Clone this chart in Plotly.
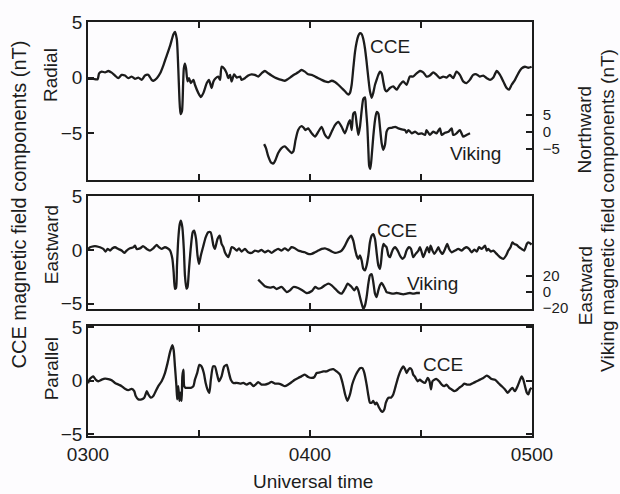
import plotly.graph_objects as go

# Time in minutes after 0300 UT; field values in nT
rad_t = [0, 1.4, 2.6, 3.0, 3.7, 4.6, 5.5, 6.4, 7.3, 8.2, 9.1, 10.0, 10.9, 11.8, 12.7, 13.6, 14.5, 15.4, 16.3, 17.2,
         17.7, 18.6, 19.5, 20.4, 21.3, 22.2, 23.1, 23.5, 24.0, 24.4, 24.7, 25.0, 25.4, 25.7, 25.9, 26.2, 26.5, 26.9,
         27.3, 27.8, 28.5, 28.9, 29.8, 30.5, 31.2, 32.1, 32.7, 33.4, 33.9, 34.5, 35.2, 35.7, 36.1, 36.8, 37.5, 37.9,
         38.4, 38.8, 39.5, 40.2, 41.1, 41.5, 42.4, 43.3, 44.2, 45.1, 46.0, 46.9, 47.8, 48.7, 49.6, 50.5, 51.4, 52.3,
         53.2, 54.1, 55.0, 55.9, 56.8, 57.7, 58.6, 59.5, 60.45, 61.35, 62.25, 63.15, 64.05, 64.95, 65.85, 66.75,
         67.65, 68.55, 69.45, 70.35, 70.8, 71.26, 71.7, 72.16, 72.6, 73.06, 73.5, 73.97, 74.4, 74.87, 75.3, 75.77,
         76.2, 76.67, 77.1, 77.57, 78.0, 78.47, 78.9, 79.37, 79.8, 80.27, 80.7, 81.6, 82.5, 83.4, 84.3, 85.2, 86.1,
         87.0, 87.9, 88.8, 89.7, 90.6, 91.5, 92.4, 93.3, 94.2, 95.1, 96.0, 96.9, 97.8, 98.7, 99.6, 100.5, 101.4,
         102.3, 103.2, 104.1, 105.0, 105.9, 106.8, 107.75, 108.65, 109.55, 110.45, 111.35, 112.25, 113.15, 113.8,
         114.5, 115.4, 116.3, 117.2, 118.1, 119.0, 119.9]
rad_v = [-0.12, -0.12, -0.15, 0.38, 0.53, 0.47, 0.59, 0.44, 0.18, -0.06, 0.24, 0.18, -0.06, 0.09, -0.12, 0, -0.21,
         0.18, 0.24, -0.21, -0.29, -0.06, 0.38, 1.12, 2.0, 2.88, 3.91, 4.12, 3.47, 0.82, -1.82, -3.29, -3.0, -0.65,
         0.82, 1.26, 0.82, -0.35, -0.06, -0.5, -0.21, -0.65, -1.38, -1.76, -1.38, -0.5, -0.21, -0.94, -0.35, -0.06,
         0.09, -0.21, 0.97, 0.82, 0.38, -0.06, 0.24, -0.35, 0.29, 0, 0.09, -0.21, -0.06, 0.18, 0.29, 0.24, 0.09,
         0.38, 0.59, 0.38, 0.18, 0, -0.12, -0.21, -0.29, -0.12, 0.09, 0.29, 0.47, 0.68, 0.53, 0.29, 0.24, 0.09,
         -0.06, -0.21, -0.35, -0.41, -0.29, -0.41, -0.65, -0.94, -1.24, -1.53, -1.38, -0.65, 0.82, 2.29, 3.18, 3.76,
         4.0, 3.91, 3.47, 2.59, 1.41, -0.06, -1.24, -1.82, -1.38, -0.65, -0.21, 0.24, 0.53, 0.38, -0.35, -1.09,
         -1.24, -0.94, -0.79, -1.09, -0.65, -0.35, -0.65, 0.09, 0.09, 0.38, 0.59, 0.47, 0.09, 0.18, 0.47, 0.24,
         -0.06, 0.09, 0, 0.24, -0.06, 0.53, 0.24, -0.35, -0.5, -0.21, 0.24, 0.29, 0.09, 0.18, -0.06, -0.21, 0,
         0.59, 0.24, -0.35, -0.94, -1.09, -0.65, -0.21, 0.38, 0.82, 0.97, 0.88, 0.97]

vn_t = [47.6, 48.1, 48.7, 49.5, 50.1, 50.7, 51.4, 52.3, 53.2, 54.1, 55.0, 55.5, 56.1, 56.8, 57.6, 58.2, 58.8, 59.5,
        60.45, 61.35, 62.25, 63.15, 64.05, 64.95, 65.85, 66.75, 67.65, 68.55, 69.45, 70.35, 70.8, 71.26, 71.7,
        72.16, 72.6, 73.06, 73.5, 73.97, 74.4, 74.87, 75.1, 75.5, 75.77, 76.0, 76.3, 76.67, 77.1, 77.57, 78.0,
        78.47, 78.9, 79.37, 79.8, 80.27, 80.7, 81.2, 82.1, 83.0, 83.9, 84.8, 85.7, 86.1, 86.6, 87.5, 88.4, 89.3,
        90.2, 91.1, 91.5, 92.4, 93.3, 94.2, 95.1, 95.6, 96.5, 97.4, 98.3, 98.7, 99.6, 100.5, 101.4, 102.3, 103.25]
vn_v = [-3.65, -4.8, -7.2, -9.1, -9.3, -8.2, -6.25, -4.8, -4.3, -5.3, -6.25, -5.8, -2.4, 0.5, 1.6, 1.25, 0.5, 1.0,
        -0.48, -1.44, 0, 1.44, -0.96, -1.92, 0, 1.92, 2.88, 1.44, -0.48, 2.4, 3.37, 0.48, 5.3, 5.77, 2.4, -0.96,
        1.44, 6.25, 9.6, 10.1, 7.2, 1.44, -5.3, -10.1, -10.9, -7.2, -1.44, 3.37, 5.77, 5.3, 1.44, -3.37, -5.3,
        -3.85, 0, 0.96, 1.15, 1.44, 0.96, 0.67, 0.48, -0.29, 0.48, -0.48, 0, -0.67, -0.48, -0.96, 0.48, -0.96, 0,
        -0.48, 0.96, -0.96, -0.29, 0, 0.96, -0.96, -0.48, 0.48, -1.44, -0.96, -0.48]

east_t = [0, 0.54, 1.44, 2.34, 3.24, 4.14, 4.77, 5.3, 5.95, 6.6, 7.3, 8.2, 9.1, 9.8, 10.45, 11.35, 12.25, 12.7,
          13.15, 14.05, 14.95, 15.85, 16.75, 17.65, 18.55, 19.2, 19.9, 20.8, 21.5, 22.2, 22.8, 23.15, 23.5, 23.8,
          24.05, 24.4, 24.8, 25.1, 25.5, 25.9, 26.2, 26.6, 26.9, 27.3, 27.8, 28.3, 28.7, 29.2, 29.6, 30.0, 30.5,
          31.2, 31.8, 32.5, 33.15, 33.9, 34.3, 35.0, 35.6, 36.1, 36.6, 37.0, 37.5, 37.9, 38.4, 38.8, 39.5, 40.2,
          40.8, 41.5, 42.4, 43.3, 44.2, 45.1, 46.0, 46.9, 47.8, 48.7, 49.6, 50.5, 51.4, 52.3, 53.2, 54.1, 55.0,
          55.9, 56.8, 57.7, 58.6, 59.5, 60.45, 61.35, 62.25, 63.15, 64.05, 64.95, 65.85, 66.75, 67.65, 68.55,
          69.45, 70.35, 71.1, 71.7, 72.16, 72.6, 73.06, 73.5, 73.97, 74.4, 74.87, 75.3, 75.77, 76.2, 76.67, 77.1,
          77.57, 78.0, 78.47, 78.9, 79.2, 79.55, 79.9, 80.27, 80.7, 81.2, 81.6, 82.1, 82.5, 83.0, 83.7, 84.3,
          84.95, 85.5, 86.1, 86.75, 87.3, 87.9, 88.55, 89.3, 89.7, 90.2, 90.6, 91.3, 91.7, 92.2, 92.6, 93.1, 93.6,
          94.2, 94.7, 95.1, 95.8, 96.5, 97.1, 97.6, 98.3, 99.2, 100.1, 101.0, 101.7, 102.3, 103.0, 103.7, 104.4,
          105.05, 105.7, 106.4, 107.3, 107.75, 108.2, 108.9, 109.55, 110.45, 111.35, 112.25, 113.0, 113.6, 114.2,
          114.7, 115.2, 115.9, 116.5, 117.2, 117.9, 118.6, 119.0, 119.9]
east_v = [0.09, 0.25, 0.34, 0.34, 0.25, 0.09, -0.15, 0.09, -0.06, 0.15, 0.25, 0.09, -0.06, -0.28, -0.06, 0.15,
          0.25, 0.4, 0.09, 0.15, 0.34, 0.09, -0.06, 0.15, 0.46, 0.25, 0.09, 0.25, 0.15, -0.06, -0.83, -2.07, -3.61,
          -3.55, -1.45, 1.02, 2.41, 2.72, 2.1, 0.09, -2.38, -3.61, -3.46, -1.76, 0.25, 1.64, 1.79, 1.02, -0.52,
          -1.3, -0.52, 0.4, 1.17, 1.64, 1.64, 0.4, 0.09, 1.02, 1.33, 0.56, 0.25, -0.22, -0.52, -0.68, -0.22, 0.25,
          0.15, -0.06, 0.15, -0.15, 0.09, -0.22, -0.28, -0.06, -0.15, 0, -0.22, -0.06, -0.28, -0.06, 0.09, -0.06,
          0.15, -0.06, 0.25, 0.15, -0.06, -0.15, -0.22, -0.37, -0.37, -0.22, -0.06, 0.09, 0.15, 0.03, -0.15, -0.28,
          -0.22, -0.06, 0.4, 1.02, 1.33, 0.86, 0.09, -0.52, -0.83, -0.52, -0.99, -1.76, -1.91, -1.45, -0.52, 0.71,
          1.33, 1.48, 1.02, -0.22, -1.45, -1.76, -1.14, 0.09, 0.56, 0.4, 0.25, -0.52, -0.68, -0.22, 0.09, 0.25,
          -0.06, -0.52, -0.83, -0.68, -0.06, 0.25, 0.09, -0.68, -0.37, -0.06, 0.25, -0.22, -0.68, -0.06, 0.25,
          -0.22, 0.4, -0.06, -0.37, -0.06, 0.25, -0.06, -0.37, 0.09, 0.56, 0.09, -0.22, -0.06, 0.09, -0.06, 0.15,
          0.25, 0.09, -0.22, 0.03, -0.15, 0.25, 0.09, 0.4, -0.06, 0.09, -0.15, -0.06, -0.37, -0.68, -0.83, -0.52,
          -0.06, 0.25, 0.71, 0.56, 0.46, 0.25, 0.09, -0.06, 0.56, 0.71, 0.5]

ve_t = [46.0, 46.9, 47.8, 49.2, 50.1, 51.0, 52.3, 53.7, 54.6, 55.5, 56.8, 58.2, 59.1, 60.5, 61.4, 62.25, 63.15,
        64.05, 64.95, 65.85, 66.75, 67.65, 68.55, 69.45, 70.2, 70.8, 71.26, 72.0, 72.6, 73.06, 73.5, 73.97, 74.4,
        74.87, 75.3, 75.77, 76.2, 76.67, 77.1, 77.57, 78.0, 78.47, 78.9, 79.37, 79.8, 80.27, 80.7, 81.6, 82.5,
        83.4, 84.3, 85.2, 86.1, 87.0, 87.9, 88.8, 89.7]
ve_v = [15.4, 11.25, 7.1, 5.4, 6.25, 3.75, 6.25, 0, 2.1, 6.25, 5.0, 1.25, -1.25, 1.25, 6.25, 4.2, 5.4, 8.3, 10.4,
        8.3, 4.2, 0, -2.1, 4.2, 10.4, 8.3, 6.25, 2.1, 6.25, 2.1, -6.25, -14.6, -20.8, -16.7, -6.25, 10.4, 20.8,
        22.1, 12.5, -2.1, -6.25, 2.1, 8.3, 11.25, 8.3, 4.2, 0, -1.25, -2.1, -1.25, -2.1, -2.9, -2.1, -1.25, -2.1,
        -1.25, -1.25]

par_t = [0, 0.5, 1.44, 2.07, 2.8, 3.7, 4.6, 5.5, 6.4, 7.3, 8.2, 9.1, 10.0, 10.9, 11.8, 12.5, 12.9, 13.6, 14.5,
         15.2, 15.9, 16.3, 17.0, 17.65, 18.3, 19.0, 19.9, 20.8, 21.5, 22.2, 22.8, 23.15, 23.5, 23.9, 24.1, 24.4,
         24.7, 24.95, 25.3, 25.5, 25.8, 26.0, 26.4, 27.1, 27.8, 28.5, 28.9, 29.5, 30.1, 30.7, 31.3, 31.8, 32.3,
         32.8, 33.2, 33.8, 34.3, 34.9, 35.4, 36.1, 36.8, 37.5, 38.1, 38.6, 39.3, 40.2, 41.1, 42.0, 42.9, 43.8,
         44.7, 45.3, 46.0, 46.9, 47.8, 48.7, 49.6, 50.5, 51.4, 52.3, 53.2, 54.1, 55.0, 55.9, 56.8, 57.7, 58.6,
         59.5, 60.45, 61.2, 61.8, 62.7, 63.6, 64.5, 65.4, 66.3, 67.2, 68.1, 68.56, 69.0, 69.5, 70.1, 70.8, 71.4,
         72.2, 72.9, 73.5, 74.15, 74.7, 75.3, 75.8, 76.2, 76.7, 77.1, 77.6, 78.0, 78.65, 79.2, 79.6, 80.1, 80.5,
         81.2, 81.9, 82.5, 83.15, 83.9, 84.6, 85.2, 85.7, 86.1, 86.6, 87.0, 87.5, 87.9, 88.4, 89.1, 89.7, 90.2,
         91.1, 91.8, 92.3, 92.7, 93.1, 93.6, 94.2, 94.9, 95.6, 96.3, 96.9, 97.6, 98.3, 99.0, 99.6, 100.3, 101.0,
         101.7, 102.4, 103.25, 104.15, 105.05, 105.95, 106.85, 107.75, 108.4, 109.1, 110.0, 110.9, 111.8, 112.7,
         113.4, 114.05, 114.7, 115.4, 116.1, 116.8, 117.2, 117.65, 118.1, 118.6, 119.0, 119.5, 119.9]
par_v = [-0.25, 0.15, 0.4, 0.09, -0.06, 0.09, 0.19, 0.15, 0.03, -0.22, -0.37, -0.52, -0.77, -0.9, -0.77, -0.99,
         -1.45, -1.76, -1.76, -1.6, -0.99, -1.3, -1.6, -1.45, -0.99, -0.52, -0.06, 0.71, 1.64, 2.72, 3.33, 2.87,
         1.33, -0.52, -1.76, -0.52, -1.91, -1.14, -1.91, 0.4, 1.02, -0.52, -0.68, -0.68, -0.68, -0.52, 0.09, 0.71,
         1.48, 1.33, 0.71, -0.22, -0.83, -1.14, 0.09, 1.33, 1.33, 0.56, -0.06, 0.4, 1.33, 1.48, 0.71, 0.09, -0.22,
         -0.22, -0.28, -0.22, -0.37, -0.22, -0.52, -0.37, -0.15, -0.37, -0.37, -0.28, -0.12, -0.28, -0.28, -0.37,
         -0.52, -0.37, -0.15, 0.09, 0.25, 0.4, 0.56, 0.34, 0.25, 0.34, 0.71, 0.77, 0.86, 0.86, 1.02, 1.08, 0.86,
         0.56, 0.09, -0.52, -1.3, -1.91, -1.3, -0.37, 0.4, 0.86, 1.17, 1.17, 0.71, -0.37, -1.45, -2.07, -2.07,
         -1.91, -2.22, -2.07, -2.53, -2.84, -2.93, -2.69, -2.07, -1.6, -1.6, -1.3, -0.52, 0.4, 1.02, 1.33, 1.08,
         0.71, 1.02, 1.17, 1.02, 0.56, 0.34, -0.06, 0.09, -0.06, -0.22, 0.25, -0.06, -0.83, -0.06, 0.09, 0.15,
         -0.06, -0.37, -0.52, -0.37, -0.68, -0.83, -0.99, -0.9, -0.68, -0.52, -0.28, -0.37, -0.37, -0.22, -0.06,
         0.09, 0.25, 0.46, 0.34, 0.15, 0.09, -0.22, -0.52, -0.83, -1.14, -0.9, -0.68, -0.99, -0.52, 0.09, 0.4,
         0.09, -0.52, -1.14, -1.3, -0.83, -0.68]

x_tickvals = [0, 30, 60, 90, 120]
x_ticktext = ["0300", "", "0400", "", "0500"]

FONT = "Liberation Sans, Arial, sans-serif"
INK = "#1c1c1c"
BG = "#fdfcfe"
LW = 2.3

fig = go.Figure()
line = dict(color=INK, width=LW, shape="spline", smoothing=0.6)
fig.add_trace(go.Scatter(x=rad_t, y=rad_v, mode="lines", line=line, xaxis="x", yaxis="y"))
fig.add_trace(go.Scatter(x=vn_t, y=vn_v, mode="lines", line=line, xaxis="x", yaxis="y2"))
fig.add_trace(go.Scatter(x=east_t, y=east_v, mode="lines", line=line, xaxis="x2", yaxis="y3"))
fig.add_trace(go.Scatter(x=ve_t, y=ve_v, mode="lines", line=line, xaxis="x2", yaxis="y4"))
fig.add_trace(go.Scatter(x=par_t, y=par_v, mode="lines", line=line, xaxis="x3", yaxis="y5"))

xcommon = dict(range=[0, 120], tickvals=x_tickvals, ticktext=x_ticktext, ticks="inside", ticklen=6,
               tickwidth=1.5, tickcolor=INK, showline=True, linewidth=1.6, linecolor=INK, mirror="ticks",
               showgrid=False, zeroline=False, tickfont=dict(size=19, color=INK, family=FONT))
ycommon = dict(ticks="inside", ticklen=6, tickwidth=1.5, tickcolor=INK, showline=True, linewidth=1.6,
               linecolor=INK, showgrid=False, zeroline=False, tickfont=dict(size=19, color=INK, family=FONT))
right_font = dict(size=15, color=INK, family=FONT)

fig.update_layout(
    width=620, height=494,
    margin=dict(l=88, r=88, t=13, b=58),
    paper_bgcolor=BG, plot_bgcolor=BG,
    showlegend=False,
    font=dict(family=FONT, color=INK, size=19),
    xaxis=dict(xcommon, anchor="y", showticklabels=False),
    xaxis2=dict(xcommon, anchor="y3", showticklabels=False),
    xaxis3=dict(xcommon, anchor="y5", showticklabels=True),
    yaxis=dict(ycommon, domain=[0.619, 1.0], range=[-9.2, 5.0], tickvals=[-5, 0, 5], anchor="x", mirror=False),
    yaxis2=dict(ycommon, overlaying="y", side="right", anchor="x", range=[-14.1, 32.2], tickvals=[-5, 0, 5],
                tickfont=right_font, ticklabelstandoff=6),
    yaxis3=dict(ycommon, domain=[0.307, 0.579], range=[-5.5, 5.0], tickvals=[-5, 0, 5], anchor="x2", mirror=False),
    yaxis4=dict(ycommon, overlaying="y3", side="right", anchor="x2", range=[-21, 119], tickvals=[-20, 0, 20],
                tickfont=right_font, ticklabelstandoff=6),
    yaxis5=dict(ycommon, domain=[0.0, 0.265], range=[-5.2, 5.1], tickvals=[-5, 0, 5], anchor="x3", mirror="ticks"),
)

ann = []
def side_title(text, x, y, size=19):
    ann.append(dict(text=text, xref="paper", yref="paper", x=x, y=y, textangle=-90, showarrow=False,
                    xanchor="center", yanchor="middle", font=dict(size=size, color=INK, family=FONT)))

side_title("CCE magnetic field components (nT)", -0.1565, 0.558, 20)
side_title("Radial", -0.0833, 0.872)
side_title("Eastward", -0.0833, 0.461)
side_title("Parallel", -0.0833, 0.161)
side_title("Northward", 1.119, 0.740)
side_title("Eastward", 1.119, 0.364)
side_title("Viking magnetic field components (nT)", 1.171, 0.546, 19)
ann.append(dict(text="Universal time", xref="paper", yref="paper", x=0.506, y=-0.111, showarrow=False,
                xanchor="center", yanchor="middle", font=dict(size=19, color=INK, family=FONT)))

def label(text, x, y, xr, yr):
    ann.append(dict(text=text, xref=xr, yref=yr, x=x, y=y, showarrow=False, xanchor="center", yanchor="middle",
                    font=dict(size=19, color=INK, family=FONT)))

label("CCE", 81.6, 2.8, "x", "y")
label("Viking", 104.6, -6.5, "x", "y2")
label("CCE", 83.5, 1.85, "x2", "y3")
label("Viking", 93.0, -3.1, "x2", "y3")
label("CCE", 95.9, 1.55, "x3", "y5")

fig.update_layout(annotations=ann)
fig.write_html("out.html", config={"displayModeBar": False},
               post_script="document.body.style.margin='0px';")
